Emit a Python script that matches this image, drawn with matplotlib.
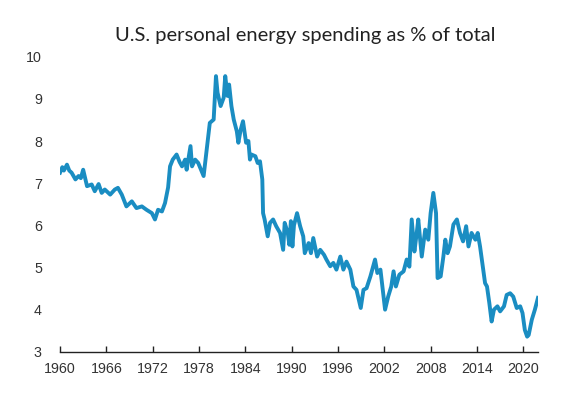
import matplotlib.pyplot as plt
import numpy as np

plt.rcParams['font.family'] = ['Liberation Sans', 'DejaVu Sans']

# U.S. personal energy spending as % of total
years = [1960.0, 1960.3, 1960.5, 1960.9, 1961.2, 1961.5, 1962.0, 1962.4, 1962.7, 1963.0,
         1963.5, 1964.1, 1964.5, 1965.0, 1965.4, 1965.8, 1966.5, 1967.1, 1967.5, 1968.0,
         1968.6, 1969.3, 1969.9, 1970.6, 1971.2, 1971.9, 1972.3, 1972.7, 1973.2, 1973.6,
         1974.0, 1974.25, 1974.6, 1975.1, 1975.5, 1975.8, 1976.2, 1976.4, 1976.9, 1977.1,
         1977.5, 1977.9, 1978.3, 1978.6, 1979.0, 1979.4, 1979.9, 1980.2, 1980.4, 1980.8,
         1981.2, 1981.4, 1981.7, 1981.9, 1982.2, 1982.5, 1982.9, 1983.1, 1983.4, 1983.7,
         1984.1, 1984.4, 1984.6, 1984.8, 1985.3, 1985.6, 1985.9, 1986.2, 1986.3, 1986.5,
         1986.9, 1987.2, 1987.6, 1988.0, 1988.5, 1988.9, 1989.1, 1989.5, 1989.7, 1989.9,
         1990.1, 1990.3, 1990.7, 1991.1, 1991.5, 1991.7, 1992.2, 1992.5, 1992.8, 1993.3,
         1993.7, 1994.2, 1994.5, 1995.0, 1995.4, 1995.8, 1996.3, 1996.7, 1997.1, 1997.6,
         1998.0, 1998.4, 1998.95, 1999.3, 1999.7, 2000.2, 2000.8, 2001.1, 2001.5, 2001.8,
         2002.1, 2002.5, 2002.9, 2003.2, 2003.5, 2003.95, 2004.5, 2004.9, 2005.25, 2005.55,
         2005.9, 2006.2, 2006.4, 2006.85, 2007.3, 2007.7, 2008.0, 2008.35, 2008.7, 2008.9,
         2009.3, 2009.65, 2009.9, 2010.2, 2010.5, 2010.95, 2011.4, 2011.8, 2012.2, 2012.6,
         2012.9, 2013.3, 2013.8, 2014.1, 2014.4, 2014.75, 2015.05, 2015.3, 2015.6, 2015.9,
         2016.2, 2016.65, 2017.0, 2017.5, 2017.85, 2018.3, 2018.7, 2019.15, 2019.6, 2019.9,
         2020.2, 2020.5, 2020.7, 2021.1, 2021.5, 2021.9]
share = [7.25, 7.38, 7.30, 7.44, 7.30, 7.25, 7.09, 7.17, 7.12, 7.32,
         6.93, 6.97, 6.81, 6.98, 6.77, 6.85, 6.73, 6.85, 6.89, 6.73,
         6.45, 6.57, 6.41, 6.45, 6.37, 6.29, 6.14, 6.37, 6.33, 6.53,
         6.90, 7.40, 7.56, 7.68, 7.50, 7.40, 7.56, 7.32, 7.88, 7.40,
         7.56, 7.48, 7.30, 7.17, 7.80, 8.43, 8.51, 9.54, 9.15, 8.83,
         9.03, 9.54, 9.07, 9.34, 8.83, 8.51, 8.23, 7.96, 8.27, 8.47,
         7.96, 8.00, 7.56, 7.68, 7.64, 7.48, 7.52, 7.09, 6.29, 6.14,
         5.74, 6.06, 6.14, 5.98, 5.82, 5.42, 6.06, 5.82, 5.54, 6.10,
         5.50, 6.00, 6.29, 5.98, 5.74, 5.34, 5.58, 5.34, 5.70, 5.26,
         5.42, 5.30, 5.19, 5.03, 5.11, 4.95, 5.26, 4.95, 5.14, 4.95,
         4.55, 4.47, 4.04, 4.47, 4.51, 4.79, 5.19, 4.87, 4.95, 4.47,
         4.00, 4.31, 4.55, 4.91, 4.55, 4.83, 4.91, 5.19, 5.02, 6.14,
         5.38, 5.82, 6.14, 5.26, 5.90, 5.66, 6.29, 6.77, 6.29, 4.75,
         4.79, 5.26, 5.66, 5.34, 5.50, 6.02, 6.14, 5.82, 5.62, 5.98,
         5.50, 5.82, 5.66, 5.82, 5.50, 5.03, 4.63, 4.55, 4.16, 3.72,
         4.00, 4.08, 3.96, 4.08, 4.35, 4.39, 4.31, 4.04, 4.08, 3.92,
         3.52, 3.36, 3.40, 3.76, 4.00, 4.28]

xticks = list(range(1960, 2021, 6))
yticks = list(range(3, 11))

fig = plt.figure(figsize=(5.77, 3.94), dpi=100)
ax = fig.add_axes([0.104, 0.107, 0.829, 0.749])

ax.plot(years, share, color='#1a8dc2', linewidth=2.8, solid_joinstyle='round')

ax.set_xlim(1960, 2021.95)
ax.set_ylim(3, 10)
ax.set_xticks(xticks)
ax.set_yticks(yticks)

for s in ['top', 'right', 'left']:
    ax.spines[s].set_visible(False)
ax.spines['bottom'].set_color('#222222')
ax.spines['bottom'].set_linewidth(1.0)

ax.tick_params(axis='x', direction='in', length=4, width=1, color='#222222',
               labelsize=10.3, labelcolor='#333333', pad=7)
ax.tick_params(axis='y', length=0, labelsize=10.3, labelcolor='#333333', pad=13)

fig.text(0.529, 0.911, 'U.S. personal energy spending as % of total',
         ha='center', va='center', fontsize=14.5, family=['Lato', 'DejaVu Sans'],
         color='#222222')

fig.savefig('out.png', dpi=100)
